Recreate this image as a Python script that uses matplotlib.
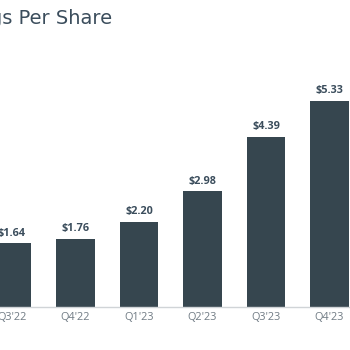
import matplotlib
matplotlib.use('Agg')
import matplotlib.pyplot as plt

# data
quarters = ["Q3'22", "Q4'22", "Q1'23", "Q2'23", "Q3'23", "Q4'23"]
eps = [1.64, 1.76, 2.20, 2.98, 4.39, 5.33]
title = "Earnings Per Share"

bar_color = '#36464f'
text_color = '#3b4d5c'
tick_color = '#707b84'

plt.rcParams['font.family'] = ['Open Sans', 'DejaVu Sans']

fig = plt.figure(figsize=(3.5, 3.5), dpi=100)
ax = fig.add_axes([0, 43.5/350, 1, 1 - 43.5/350])

x = list(range(len(quarters)))
bars = ax.bar(x, eps, width=0.614, color=bar_color, zorder=2)
for b, v in zip(bars, eps):
    ax.text(b.get_x() + b.get_width()/2, v + 0.12, f'${v:.2f}', ha='center', va='bottom',
            fontsize=7.8, fontweight='bold', color=text_color)

ax.set_xlim(-12/63.5, (350-12)/63.5)
ax.set_ylim(0, 306.5/38.6)
ax.set_xticks(x)
ax.set_xticklabels(quarters, fontsize=7.8, color=tick_color)
ax.tick_params(axis='x', length=0, pad=4)
ax.set_yticks([])
for s in ['top', 'left', 'right']:
    ax.spines[s].set_visible(False)
ax.spines['bottom'].set_color('#d0d4d7')
ax.spines['bottom'].set_linewidth(1.0)

# title runs off the left edge as in the reference crop
fig.text(112/350, 1 - 18.5/350, title, ha='right', va='center', fontsize=14,
         color=text_color, family='DejaVu Sans')

fig.savefig('out.png', dpi=100)
